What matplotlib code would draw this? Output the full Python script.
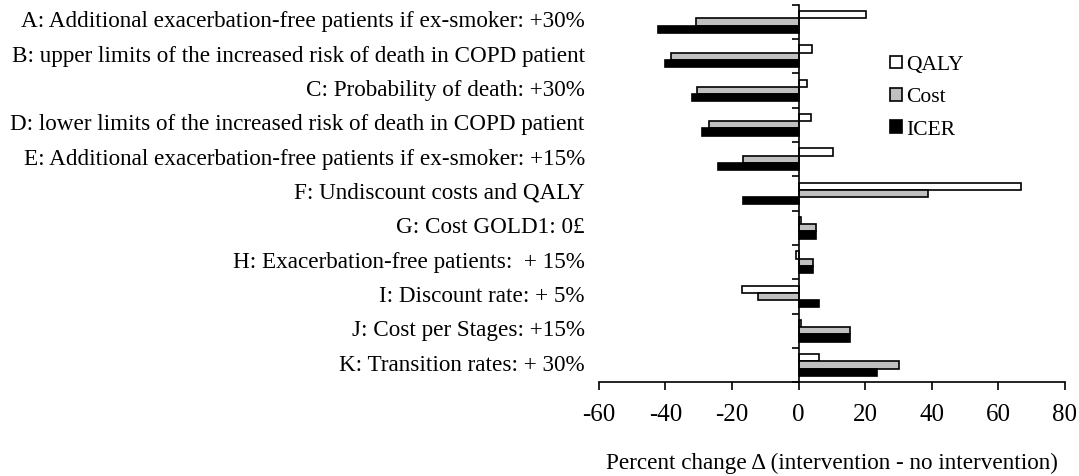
import matplotlib.pyplot as plt
import matplotlib.transforms as mtransforms
import numpy as np

plt.rcParams['font.family'] = ['Liberation Serif', 'DejaVu Serif']

labels = [
    "A: Additional exacerbation-free patients if ex-smoker: +30%",
    "B: upper limits of the increased risk of death in COPD patient",
    "C: Probability of death: +30%",
    "D: lower limits of the increased risk of death in COPD patient",
    "E: Additional exacerbation-free patients if ex-smoker: +15%",
    "F: Undiscount costs and QALY",
    "G: Cost GOLD1: 0\u00a3",
    "H: Exacerbation-free patients:  + 15%",
    "I: Discount rate: + 5%",
    "J: Cost per Stages: +15%",
    "K: Transition rates: + 30%",
]
qaly = [20.3, 4.1, 2.6, 3.6, 10.4, 66.9, 0.6, -0.8, -17.1, 0.7, 6.1]
cost = [-30.7, -38.3, -30.4, -26.9, -16.6, 38.8, 5.1, 4.4, -12.2, 15.4, 30.3]
icer = [-42.2, -40.2, -31.9, -28.9, -24.1, -16.6, 5.1, 4.4, 6.1, 15.4, 23.4]
xticks = [-60, -40, -20, 0, 20, 40, 60, 80]

fs = 16.7

fig = plt.figure(figsize=(10.79, 4.76), dpi=100)
ax = fig.add_axes([0.555, 0.197, 0.432, 0.793])

y = np.arange(len(labels))
h = 0.21
ax.barh(y - h, qaly, height=h, color='white', edgecolor='black', linewidth=1.2, label='QALY')
ax.barh(y, cost, height=h, color='#c0c0c0', edgecolor='black', linewidth=1.2, label='Cost')
ax.barh(y + h, icer, height=h, color='black', edgecolor='black', linewidth=1.2, label='ICER')

ax.set_xlim(-60, 80)
ax.set_ylim(len(labels) - 0.5, -0.5)
ax.set_xticks(xticks)
ax.set_xticklabels([str(t) for t in xticks], fontsize=18)
ax.set_yticks([])
ax.set_yticks(np.arange(len(labels) + 1) - 0.5, minor=True)
ax.tick_params(axis='y', which='minor', length=5, width=1.2, direction='out')
ax.tick_params(axis='x', length=6, width=1.2, direction='out', pad=10)

ax.spines['left'].set_position(('data', 0))
ax.spines['left'].set_linewidth(1.2)
ax.spines['bottom'].set_linewidth(1.2)
ax.spines['top'].set_visible(False)
ax.spines['right'].set_visible(False)

trans = mtransforms.blended_transform_factory(ax.transAxes, ax.transData)
for i, lab in enumerate(labels):
    ax.text(-0.03, i, lab, transform=trans, ha='right', va='center', fontsize=fs)

ax.set_xlabel("Percent change \u0394 (intervention - no intervention)", fontsize=fs, labelpad=19)

ax.legend(loc='upper left', bbox_to_anchor=(0.815, 0.906), bbox_transform=fig.transFigure,
          frameon=False, fontsize=15.5, handlelength=0.55, handleheight=0.55,
          handletextpad=0.2, labelspacing=0.62, borderpad=0)

fig.savefig('out.png', dpi=100)
